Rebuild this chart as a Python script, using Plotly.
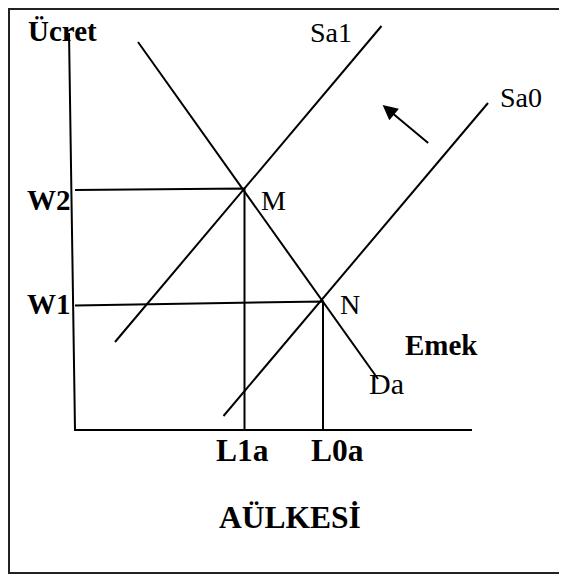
import plotly.graph_objects as go

# diagram values (labour on x, wage on y)
demand_L = [63, 303]
demand_W = [388, 51]
sa1_L = [40, 306.5]
sa1_W = [88, 404]
sa0_L = [148.5, 413]
sa0_W = [14, 327]

eq_names = ["M", "N"]
eq_L = [169.5, 248]
eq_W = [241.5, 128.5]
eq_label_L = [198, 275]
eq_label_W = [230, 126]

wage_labels = ["W2", "W1"]
wage_axis_W = [240, 124.5]
wage_label_W = [230, 126]

labour_labels = ["L1a", "L0a"]
labour_label_L = [167, 262.5]

axis_L = [-6, 0, 397]
axis_W = [397, 0, 0]

arrow_from = (354.7, 285.7)
arrow_to = (307.6, 325)

font = "Liberation Serif"
line = dict(color="black", width=2)

fig = go.Figure()

fig.add_trace(go.Scatter(x=axis_L, y=axis_W, mode="lines", line=line))
fig.add_trace(go.Scatter(x=demand_L, y=demand_W, mode="lines", line=line))
fig.add_trace(go.Scatter(x=sa1_L, y=sa1_W, mode="lines", line=line))
fig.add_trace(go.Scatter(x=sa0_L, y=sa0_W, mode="lines", line=line))

# guide lines from the equilibria to both axes
for i in range(len(eq_L)):
    fig.add_trace(go.Scatter(x=[0, eq_L[i], eq_L[i]],
                             y=[wage_axis_W[i], eq_W[i], 0],
                             mode="lines", line=line))

def label(text, x, y, bold=False, size=28):
    if bold:
        text = "<b>" + text + "</b>"
    fig.add_annotation(x=x, y=y, text=text, showarrow=False,
                       font=dict(family=font, size=size, color="black"))

label("Ücret", -12.5, 399, bold=True, size=29)
label("Sa1", 256, 398)
label("Sa0", 446, 333)
for i in range(len(eq_L)):
    label(eq_names[i], eq_label_L[i], eq_label_W[i])
    label(wage_labels[i], -26, wage_label_W[i], bold=True, size=29)
    label(labour_labels[i], labour_label_L[i], -20, bold=True, size=31.5)
label("Emek", 366, 85, bold=True, size=29)
label("Da", 311, 47, size=30)
label("AÜLKESİ", 215, -87, bold=True, size=31.5)

fig.add_annotation(x=arrow_to[0], y=arrow_to[1], ax=arrow_from[0], ay=arrow_from[1],
                   xref="x", yref="y", axref="x", ayref="y", text="",
                   showarrow=True, arrowhead=2, arrowsize=1.5, arrowwidth=2,
                   arrowcolor="black")

# frame round the figure (right side runs off the picture)
fig.add_shape(type="path", path="M 510 421 L -66 421 L -66 -143 L 510 -143",
              line=dict(color="#222222", width=2))

# the page body adds an 8px offset, so the ranges are shifted by it
fig.update_layout(
    width=567,
    height=576,
    margin=dict(l=0, r=0, t=0, b=0),
    showlegend=False,
    plot_bgcolor="white",
    paper_bgcolor="white",
    xaxis=dict(range=[-67, 500], visible=False),
    yaxis=dict(range=[-154, 422], visible=False),
)

fig.write_html("out.html")
